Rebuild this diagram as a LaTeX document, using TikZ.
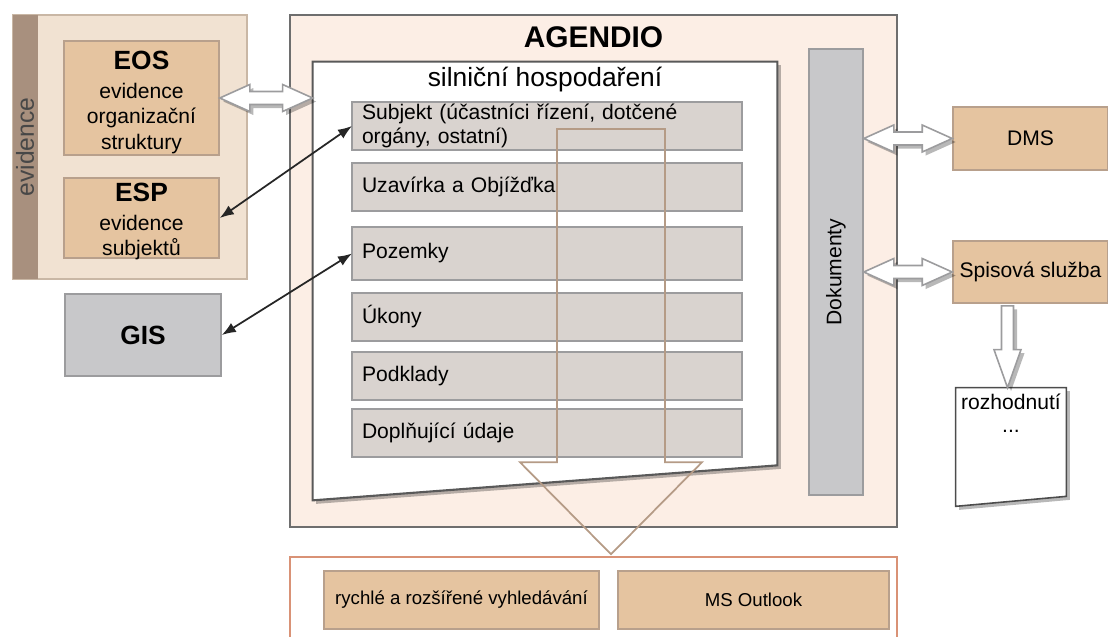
\documentclass[tikz,border=0pt]{standalone}
\usepackage{fontspec}
\setmainfont{Liberation Sans}
\usepackage{tikz}
\usetikzlibrary{positioning,shadows,calc,arrows.meta}

\definecolor{agfill}{HTML}{FCEEE5}
\definecolor{agline}{HTML}{6E6E6E}
\definecolor{evfill}{HTML}{F1E2D2}
\definecolor{evline}{HTML}{C9B7A5}
\definecolor{evstrip}{HTML}{A8907E}
\definecolor{tanfill}{HTML}{E5C4A0}
\definecolor{tanline}{HTML}{B8A08C}
\definecolor{grayfill}{HTML}{C8C8CA}
\definecolor{grayline}{HTML}{9C9C9E}
\definecolor{rowfill}{HTML}{D9D3CF}
\definecolor{searchline}{HTML}{D99276}
\definecolor{arrowbrown}{HTML}{B59B86}

\begin{document}
\begin{tikzpicture}[
    tan style/.style={rectangle, draw=tanline, fill=tanfill, line width=0.9pt, align=center, inner sep=0pt, font=\fontsize{12}{14.4}\selectfont},
    gray style/.style={rectangle, draw=grayline, fill=grayfill, line width=0.9pt, inner sep=0pt},
    row style/.style={rectangle, draw=grayline, fill=rowfill, line width=0.9pt, minimum width=7.8cm, minimum height=0.96cm, text width=7.4cm, align=left, inner xsep=0.2cm, inner ysep=0pt, outer sep=0pt, anchor=north, font=\fontsize{12}{14}\selectfont},
    box text/.style={align=center, inner sep=0pt, font=\fontsize{12}{14.4}\selectfont},
    soft shadow/.style={drop shadow={shadow xshift=2pt, shadow yshift=-2pt, opacity=0.28, fill=black}},
    fat arrow/.style={draw=grayline, fill=white, line width=0.9pt, soft shadow,
        to path={let \p1=(\tikztostart), \p2=(\tikztotarget) in
            (\x1,\y1) -- (\x1+0.6cm,\y1+0.27cm) -- (\x1+0.6cm,\y1+0.13cm) -- (\x2-0.6cm,\y1+0.13cm)
            -- (\x2-0.6cm,\y1+0.27cm) -- (\x2,\y1) -- (\x2-0.6cm,\y1-0.27cm) -- (\x2-0.6cm,\y1-0.13cm)
            -- (\x1+0.6cm,\y1-0.13cm) -- (\x1+0.6cm,\y1-0.27cm) -- cycle}},
    link/.style={{Latex[length=8pt,width=6pt]}-{Latex[length=8pt,width=6pt]}, line width=1pt, black!85}
]
\useasboundingbox (0,0) rectangle (22.16,-12.72);

% evidence
\node[rectangle, draw=evline, fill=evfill, line width=0.9pt, minimum width=4.68cm, minimum height=5.28cm] (evidence) at (2.6,-2.94) {};
\node[rectangle, fill=evstrip, minimum width=0.5cm, minimum height=5.28cm, anchor=west] (strip) at (evidence.west) {};
\node[rotate=90, font=\fontsize{14}{16}\selectfont, text=black!72] at (strip) {evidence};
\node[tan style, minimum width=3.1cm, minimum height=2.28cm] (EOS) at (2.83,-1.96) {};
\node[box text] at ([yshift=-0.09cm]EOS.center)
    {{\fontsize{15}{16}\selectfont\bfseries EOS}\\[2pt]evidence\\organizační\\struktury};
\node[tan style, minimum width=3.1cm, minimum height=1.6cm] (ESP) at (2.83,-4.36) {};
\node[box text] at ([yshift=-0.07cm]ESP.center)
    {{\fontsize{15}{16}\selectfont\bfseries ESP}\\[2pt]evidence\\subjektů};
\node[gray style, minimum width=3.12cm, minimum height=1.64cm, font=\fontsize{15}{16}\selectfont\bfseries] (GIS) at (2.86,-6.7) {GIS};

% AGENDIO
\node[rectangle, draw=agline, fill=agfill, line width=1pt, minimum width=12.14cm, minimum height=10.24cm] (agendio) at (11.87,-5.42) {};
\node[font=\fontsize{17}{18}\selectfont\bfseries] at ($(agendio.north)+(0,-0.47)$) {AGENDIO};

% silnicni hospodareni
\node[minimum width=9.28cm, minimum height=8.76cm, inner sep=0pt] (sheet) at (10.9,-5.62) {};
\draw[draw=black!65, fill=white, line width=1.2pt, soft shadow]
    (sheet.north west) -- (sheet.north east) -- ($(sheet.south east)+(0,0.7)$) -- (sheet.south west) -- cycle;
\node[font=\fontsize{15}{17}\selectfont] at ($(sheet.north)+(0,-0.36)$) {silniční hospodaření};

\node[row style] (Subjekt) at (10.94,-2.04) {Subjekt (účastníci řízení, dotčené\\orgány, ostatní)};
\node[row style, below=0.26cm of Subjekt] (Uzavirka) {Uzavírka a Objížďka};
\node[row style, below=0.32cm of Uzavirka, minimum height=1.06cm] (Pozemky) {Pozemky};
\node[row style, below=0.26cm of Pozemky] (Ukony) {Úkony};
\node[row style, below=0.22cm of Ukony] (Podklady) {Podklady};
\node[row style, below=0.18cm of Podklady] (Doplnujici) {Doplňující údaje};

\node[gray style, minimum width=1.08cm, minimum height=8.92cm] (dok) at (16.72,-5.44) {};
\node[rotate=90, font=\fontsize{12}{14}\selectfont] at (dok) {Dokumenty};

% vpravo
\node[tan style, minimum width=3.1cm, minimum height=1.26cm] (DMS) at (20.61,-2.77) {DMS};
\node[tan style, minimum width=3.1cm, minimum height=1.24cm] (Spisova) at (20.61,-5.44) {Spisová služba};
\node[minimum width=2.2cm, minimum height=2.36cm, inner sep=0pt] (doc) at (20.22,-8.94) {};
\draw[draw=black!70, fill=white, line width=0.9pt, soft shadow]
    (doc.north west) -- (doc.north east) -- ($(doc.south east)+(0,0.2)$) -- (doc.south west) -- cycle;
\node[below=0pt of doc.north, align=center, font=\fontsize{12}{13}\selectfont] {rozhodnutí\\...};

% vyhledavani
\node[rectangle, draw=searchline, fill=white, line width=0.9pt, minimum width=12.14cm, minimum height=2.06cm] (search) at (11.87,-12.17) {};
\node[tan style, minimum width=5.5cm, minimum height=1.16cm, font=\fontsize{10.6}{12}\selectfont] (rychle) at (9.23,-12.0) {rychlé a rozšířené vyhledávání};
\node[tan style, minimum width=5.42cm, minimum height=1.16cm, font=\fontsize{10.6}{12}\selectfont] (outlook) at (15.07,-12.0) {MS Outlook};

% sipky
\draw[fat arrow] (EOS.east) to (EOS.east -| sheet.west);
\draw[fat arrow] (dok.east |- DMS.west) to (DMS.west);
\draw[fat arrow] (dok.east |- Spisova.west) to (Spisova.west);
\draw[link] (ESP.east) -- (Subjekt.west);
\draw[link] (GIS.east) -- (Pozemky.west);

\coordinate (dtip) at ($(doc.north)+(-0.07,0)$);
\draw[draw=grayline, fill=white, line width=0.9pt, soft shadow]
    let \p1=(dtip |- Spisova.south), \p2=(dtip) in
    (\x1-0.12cm,\y1-0.04cm) -- (\x1+0.12cm,\y1-0.04cm) -- (\x1+0.12cm,\y2+0.76cm) -- (\x1+0.27cm,\y2+0.76cm)
    -- (\x2,\y2) -- (\x1-0.27cm,\y2+0.76cm) -- (\x1-0.12cm,\y2+0.76cm) -- cycle;

\coordinate (bigtip) at ($(search.north)+(0.35,0.04)$);
\coordinate (bigtop) at ($(bigtip |- Subjekt.center)+(0,-0.06)$);
\draw[draw=arrowbrown, line width=1pt]
    let \p1=(bigtop), \p2=(bigtip) in
    (\x1-1.08cm,\y1) -- (\x1+1.08cm,\y1) -- (\x1+1.08cm,\y2+1.84cm) -- (\x1+1.82cm,\y2+1.84cm)
    -- (\x2,\y2) -- (\x1-1.82cm,\y2+1.84cm) -- (\x1-1.08cm,\y2+1.84cm) -- cycle;
\end{tikzpicture}
\end{document}
